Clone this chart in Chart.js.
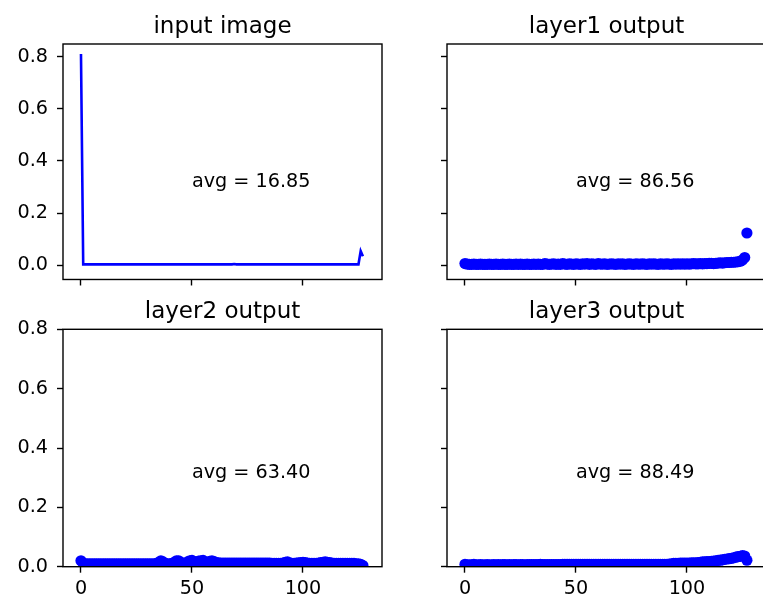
<!DOCTYPE html>
<html>
<head>
<meta charset="utf-8">
<script src="https://cdn.jsdelivr.net/npm/chart.js@4/dist/chart.umd.min.js"></script>
<style>
  html, body { margin: 0; padding: 0; background: #fff; overflow: hidden; }
  #wrap { position: relative; width: 763px; height: 597px; overflow: hidden; }
  canvas { position: absolute; }
</style>
</head>
<body>
<div id="wrap">
  <canvas id="c0"></canvas>
  <canvas id="c1"></canvas>
  <canvas id="c2"></canvas>
  <canvas id="c3"></canvas>
</div>
<script>
// ---------------- data ----------------
const titles = ["input image", "layer1 output", "layer2 output", "layer3 output"];
const avgLabels = ["avg = 16.85", "avg = 86.56", "avg = 63.40", "avg = 88.49"];
const xTicks = [0, 50, 100];
const yTicks = [0.0, 0.2, 0.4, 0.6, 0.8];

const inputImage = [
  0.81, 0.004, 0.004, 0.004, 0.004, 0.004, 0.004, 0.004, 0.004, 0.004,
  0.004, 0.004, 0.004, 0.004, 0.004, 0.004, 0.004, 0.004, 0.004, 0.004,
  0.004, 0.004, 0.004, 0.004, 0.004, 0.004, 0.004, 0.004, 0.004, 0.004,
  0.004, 0.004, 0.004, 0.004, 0.004, 0.004, 0.004, 0.004, 0.004, 0.004,
  0.004, 0.004, 0.004, 0.004, 0.004, 0.004, 0.004, 0.004, 0.004, 0.004,
  0.004, 0.004, 0.004, 0.004, 0.004, 0.004, 0.004, 0.004, 0.004, 0.004,
  0.004, 0.004, 0.004, 0.004, 0.004, 0.004, 0.004, 0.004, 0.004, 0.005,
  0.004, 0.004, 0.004, 0.004, 0.004, 0.004, 0.004, 0.004, 0.004, 0.004,
  0.004, 0.004, 0.004, 0.004, 0.004, 0.004, 0.004, 0.004, 0.004, 0.004,
  0.004, 0.004, 0.004, 0.004, 0.004, 0.004, 0.004, 0.004, 0.004, 0.004,
  0.004, 0.004, 0.004, 0.004, 0.004, 0.004, 0.004, 0.004, 0.004, 0.004,
  0.004, 0.004, 0.004, 0.004, 0.004, 0.004, 0.004, 0.004, 0.004, 0.004,
  0.004, 0.004, 0.004, 0.004, 0.004, 0.004, 0.055, 0.035
];

const layer1 = [
  0.007, 0.005, 0.004, 0.004, 0.005, 0.004, 0.004, 0.005, 0.004, 0.004,
  0.004, 0.005, 0.004, 0.004, 0.005, 0.004, 0.004, 0.005, 0.004, 0.004,
  0.005, 0.004, 0.004, 0.005, 0.004, 0.005, 0.004, 0.004, 0.005, 0.004,
  0.004, 0.005, 0.004, 0.005, 0.004, 0.004, 0.007, 0.005, 0.004, 0.005,
  0.006, 0.004, 0.005, 0.004, 0.007, 0.005, 0.004, 0.006, 0.005, 0.004,
  0.006, 0.005, 0.004, 0.006, 0.005, 0.007, 0.004, 0.006, 0.005, 0.004,
  0.007, 0.005, 0.005, 0.006, 0.004, 0.005, 0.006, 0.005, 0.004, 0.006,
  0.005, 0.006, 0.004, 0.005, 0.006, 0.005, 0.004, 0.006, 0.005, 0.005,
  0.006, 0.005, 0.004, 0.006, 0.005, 0.006, 0.005, 0.004, 0.006, 0.005,
  0.005, 0.006, 0.005, 0.004, 0.006, 0.005, 0.006, 0.005, 0.006, 0.005,
  0.006, 0.005, 0.006, 0.007, 0.006, 0.006, 0.007, 0.006, 0.007, 0.007,
  0.008, 0.008, 0.007, 0.008, 0.009, 0.010, 0.009, 0.010, 0.011, 0.011,
  0.012, 0.012, 0.013, 0.014, 0.016, 0.020, 0.030, 0.124
];

const layer2 = [
  0.020, 0.012, 0.010, 0.010, 0.010, 0.010, 0.010, 0.010, 0.010, 0.010,
  0.010, 0.010, 0.010, 0.010, 0.010, 0.010, 0.010, 0.010, 0.010, 0.010,
  0.010, 0.010, 0.010, 0.010, 0.010, 0.010, 0.010, 0.010, 0.010, 0.010,
  0.010, 0.010, 0.010, 0.010, 0.011, 0.015, 0.020, 0.016, 0.011, 0.010,
  0.010, 0.011, 0.015, 0.020, 0.020, 0.015, 0.011, 0.012, 0.016, 0.020,
  0.021, 0.017, 0.014, 0.019, 0.020, 0.021, 0.016, 0.014, 0.018, 0.020,
  0.017, 0.014, 0.013, 0.012, 0.012, 0.012, 0.012, 0.012, 0.012, 0.012,
  0.012, 0.012, 0.012, 0.012, 0.012, 0.012, 0.012, 0.012, 0.012, 0.012,
  0.012, 0.012, 0.012, 0.012, 0.012, 0.012, 0.011, 0.011, 0.011, 0.011,
  0.011, 0.012, 0.015, 0.016, 0.013, 0.011, 0.011, 0.012, 0.013, 0.014,
  0.015, 0.014, 0.012, 0.011, 0.011, 0.011, 0.011, 0.012, 0.014, 0.015,
  0.016, 0.015, 0.014, 0.012, 0.011, 0.011, 0.011, 0.011, 0.011, 0.011,
  0.011, 0.011, 0.011, 0.011, 0.010, 0.010, 0.008, 0.004
];

const layer3 = [
  0.008, 0.006, 0.006, 0.006, 0.008, 0.006, 0.006, 0.007, 0.006, 0.006,
  0.007, 0.006, 0.006, 0.007, 0.006, 0.007, 0.006, 0.007, 0.007, 0.006,
  0.007, 0.006, 0.007, 0.007, 0.006, 0.007, 0.007, 0.006, 0.007, 0.007,
  0.007, 0.007, 0.007, 0.007, 0.008, 0.007, 0.007, 0.007, 0.007, 0.007,
  0.007, 0.007, 0.007, 0.007, 0.008, 0.008, 0.008, 0.008, 0.008, 0.008,
  0.008, 0.008, 0.008, 0.008, 0.008, 0.008, 0.008, 0.008, 0.008, 0.008,
  0.008, 0.008, 0.008, 0.008, 0.008, 0.008, 0.008, 0.008, 0.008, 0.008,
  0.008, 0.008, 0.008, 0.008, 0.008, 0.008, 0.008, 0.008, 0.008, 0.008,
  0.008, 0.008, 0.008, 0.008, 0.008, 0.008, 0.008, 0.008, 0.008, 0.008,
  0.008, 0.008, 0.009, 0.010, 0.011, 0.011, 0.011, 0.012, 0.012, 0.012,
  0.012, 0.012, 0.013, 0.013, 0.013, 0.014, 0.015, 0.016, 0.016, 0.017,
  0.017, 0.018, 0.019, 0.020, 0.021, 0.022, 0.023, 0.025, 0.026, 0.027,
  0.028, 0.030, 0.032, 0.034, 0.035, 0.037, 0.036, 0.022
];

const seriesList = [inputImage, layer1, layer2, layer3];

// ---------------- layout ----------------
const FONT = "'DejaVu Sans', sans-serif";
const TICK_FONT = 19.2;
const TITLE_FONT = 23;
const X_MIN = -8.1, X_MAX = 135.6;
const TOP_Y = [-0.054, 0.848];
const BOT_Y = [0.0, 0.8];

const panels = [
  { left: 0,   top: 0,   w: 410, h: 300, area: { l: 63,  t: 44,    r: 382, b: 282 },   yr: TOP_Y, xLabels: false, yLabels: true  },
  { left: 410, top: 0,   w: 370, h: 300, area: { l: 447, t: 44,    r: 766, b: 282 },   yr: TOP_Y, xLabels: false, yLabels: false },
  { left: 0,   top: 300, w: 410, h: 297, area: { l: 63,  t: 329.3, r: 382, b: 566.7 }, yr: BOT_Y, xLabels: true,  yLabels: true  },
  { left: 410, top: 300, w: 370, h: 297, area: { l: 447, t: 329.3, r: 766, b: 566.7 }, yr: BOT_Y, xLabels: true,  yLabels: false },
];

const boxPlugin = {
  id: 'mplBox',
  afterDraw(chart, args, opts) {
    const { ctx, chartArea: a, scales } = chart;
    ctx.save();
    ctx.strokeStyle = '#000';
    ctx.lineWidth = 1.4;
    ctx.strokeRect(a.left, a.top, a.right - a.left, a.bottom - a.top);
    ctx.fillStyle = '#000';
    ctx.font = TITLE_FONT + 'px ' + FONT;
    ctx.textAlign = 'center';
    ctx.textBaseline = 'alphabetic';
    ctx.fillText(opts.title, (a.left + a.right) / 2, a.top - 11);
    ctx.font = TICK_FONT + 'px ' + FONT;
    ctx.textAlign = 'left';
    ctx.fillText(opts.avg, scales.x.getPixelForValue(50), scales.y.getPixelForValue(0.3));
    ctx.restore();
  }
};

panels.forEach((p, i) => {
  const cv = document.getElementById('c' + i);
  cv.width = p.w; cv.height = p.h;
  cv.style.left = p.left + 'px'; cv.style.top = p.top + 'px';
  cv.style.width = p.w + 'px'; cv.style.height = p.h + 'px';

  const aL = p.area.l - p.left, aT = p.area.t - p.top;
  const aR = p.area.r - p.left, aB = p.area.b - p.top;

  const vals = seriesList[i];
  const pts = vals.map((v, k) => ({ x: k, y: v }));
  const isLine = i === 0;

  new Chart(cv, {
    type: 'scatter',
    data: {
      datasets: [{
        data: pts,
        showLine: isLine,
        borderColor: '#0000ff',
        backgroundColor: '#0000ff',
        borderWidth: isLine ? 2.6 : 0,
        pointRadius: isLine ? 0 : 5.6,
        pointHoverRadius: 0,
        tension: 0,
        clip: 0
      }]
    },
    options: {
      responsive: false,
      animation: false,
      devicePixelRatio: 1,
      layout: { padding: { top: aT, left: 0, right: p.w - aR, bottom: 0 } },
      plugins: {
        legend: { display: false },
        tooltip: { enabled: false },
        mplBox: { title: titles[i], avg: avgLabels[i] }
      },
      events: [],
      scales: {
        x: {
          type: 'linear',
          min: X_MIN, max: X_MAX,
          afterBuildTicks: s => { s.ticks = xTicks.map(v => ({ value: v })); },
          afterFit: s => { s.height = p.h - aB; },
          border: { display: false },
          grid: { drawOnChartArea: false, drawTicks: true, tickLength: 6, tickColor: '#000', tickWidth: 1.4 },
          ticks: {
            color: '#000',
            padding: 5,
            maxRotation: 0,
            autoSkip: false,
            font: { family: FONT, size: TICK_FONT },
            callback: v => p.xLabels ? String(v) : ''
          }
        },
        y: {
          type: 'linear',
          min: p.yr[0], max: p.yr[1],
          afterBuildTicks: s => { s.ticks = yTicks.map(v => ({ value: v })); },
          afterFit: s => { s.width = aL; },
          border: { display: false },
          grid: { drawOnChartArea: false, drawTicks: true, tickLength: 6, tickColor: '#000', tickWidth: 1.4 },
          ticks: {
            color: '#000',
            padding: 9,
            autoSkip: false,
            font: { family: FONT, size: TICK_FONT },
            callback: v => p.yLabels ? v.toFixed(1) : ''
          }
        }
      }
    },
    plugins: [boxPlugin]
  });
});
</script>
</body>
</html>
